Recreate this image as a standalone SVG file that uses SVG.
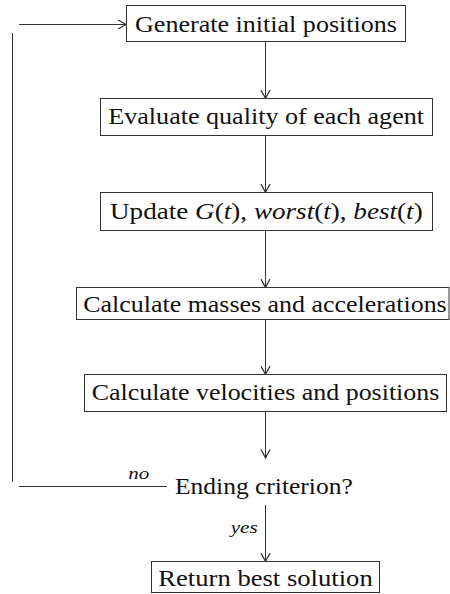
<svg xmlns="http://www.w3.org/2000/svg" width="450" height="594" viewBox="0 0 450 594" font-family="Liberation Serif, DejaVu Serif, serif">
  <style>
    .box { fill: #ffffff; stroke: #333333; stroke-width: 1; }
    .lbl { font-size: 24px; fill: #111111; }
    .sm { font-size: 17px; font-style: italic; fill: #111111; }
    .it { font-style: italic; }
    .edge { fill: none; stroke: #333333; stroke-width: 1; }
    .arr { marker-end: url(#to); }
  </style>
  <defs>
    <marker id="to" markerUnits="userSpaceOnUse" markerWidth="12" markerHeight="12" viewBox="-8 -5 9 10" refX="0" refY="0" orient="auto" overflow="visible">
      <path d="M-7,-3.8 Q-2.5,-1.2 0,0 Q-2.5,1.2 -7,3.8" fill="none" stroke="#333333" stroke-width="1"/>
    </marker>
  </defs>
  <rect width="450" height="594" fill="#ffffff"/>

  <!-- connectors -->
  <g id="connectors">
    <line class="edge arr" x1="265.5" y1="41.5" x2="265.5" y2="98.5"/>
    <line class="edge arr" x1="265.5" y1="135.5" x2="265.5" y2="192.5"/>
    <line class="edge arr" x1="265.5" y1="230.5" x2="265.5" y2="287.5"/>
    <line class="edge arr" x1="265.5" y1="319.5" x2="265.5" y2="374.5"/>
    <line class="edge arr" x1="265.5" y1="411.5" x2="265.5" y2="458"/>
    <line class="edge arr" x1="265.5" y1="505" x2="265.5" y2="561.5"/>
    <!-- loop back on "no" -->
    <line class="edge" x1="167" y1="486.5" x2="19" y2="486.5"/>
    <line class="edge" x1="12.5" y1="482" x2="12.5" y2="33"/>
    <line class="edge arr" x1="19" y1="24.5" x2="126.5" y2="24.5"/>
    <text class="sm" x="128.3" y="479" textLength="21" lengthAdjust="spacingAndGlyphs">no</text>
    <text class="sm" x="230.7" y="532.5" textLength="27" lengthAdjust="spacingAndGlyphs">yes</text>
  </g>

  <g id="init">
    <rect class="box" x="126.5" y="5.5" width="279" height="36"/>
    <text class="lbl" x="135" y="32" textLength="262" lengthAdjust="spacingAndGlyphs">Generate initial positions</text>
  </g>

  <g id="evaluate">
    <rect class="box" x="100.5" y="98.5" width="332" height="37"/>
    <text class="lbl" x="108.3" y="124.3" textLength="315.7" lengthAdjust="spacingAndGlyphs">Evaluate quality of each agent</text>
  </g>

  <g id="update">
    <rect class="box" x="100.5" y="192.5" width="332" height="38"/>
    <text class="lbl" x="110" y="218.5" textLength="312.7" lengthAdjust="spacingAndGlyphs">Update <tspan class="it">G</tspan>(<tspan class="it">t</tspan>), <tspan class="it">worst</tspan>(<tspan class="it">t</tspan>), <tspan class="it">best</tspan>(<tspan class="it">t</tspan>)</text>
  </g>

  <g id="masses">
    <rect class="box" x="76.5" y="287.5" width="372.5" height="32"/>
    <text class="lbl" x="83.3" y="311.5" textLength="363.4" lengthAdjust="spacingAndGlyphs">Calculate masses and accelerations</text>
  </g>

  <g id="velocities">
    <rect class="box" x="84.5" y="374.5" width="362" height="37"/>
    <text class="lbl" x="91.7" y="400" textLength="347.6" lengthAdjust="spacingAndGlyphs">Calculate velocities and positions</text>
  </g>

  <g id="ending">
    <text class="lbl" x="175" y="494" textLength="177.7" lengthAdjust="spacingAndGlyphs">Ending criterion?</text>
  </g>

  <g id="result">
    <rect class="box" x="151.5" y="561.5" width="228" height="31"/>
    <text class="lbl" x="158.3" y="586" textLength="214.4" lengthAdjust="spacingAndGlyphs">Return best solution</text>
  </g>
</svg>
